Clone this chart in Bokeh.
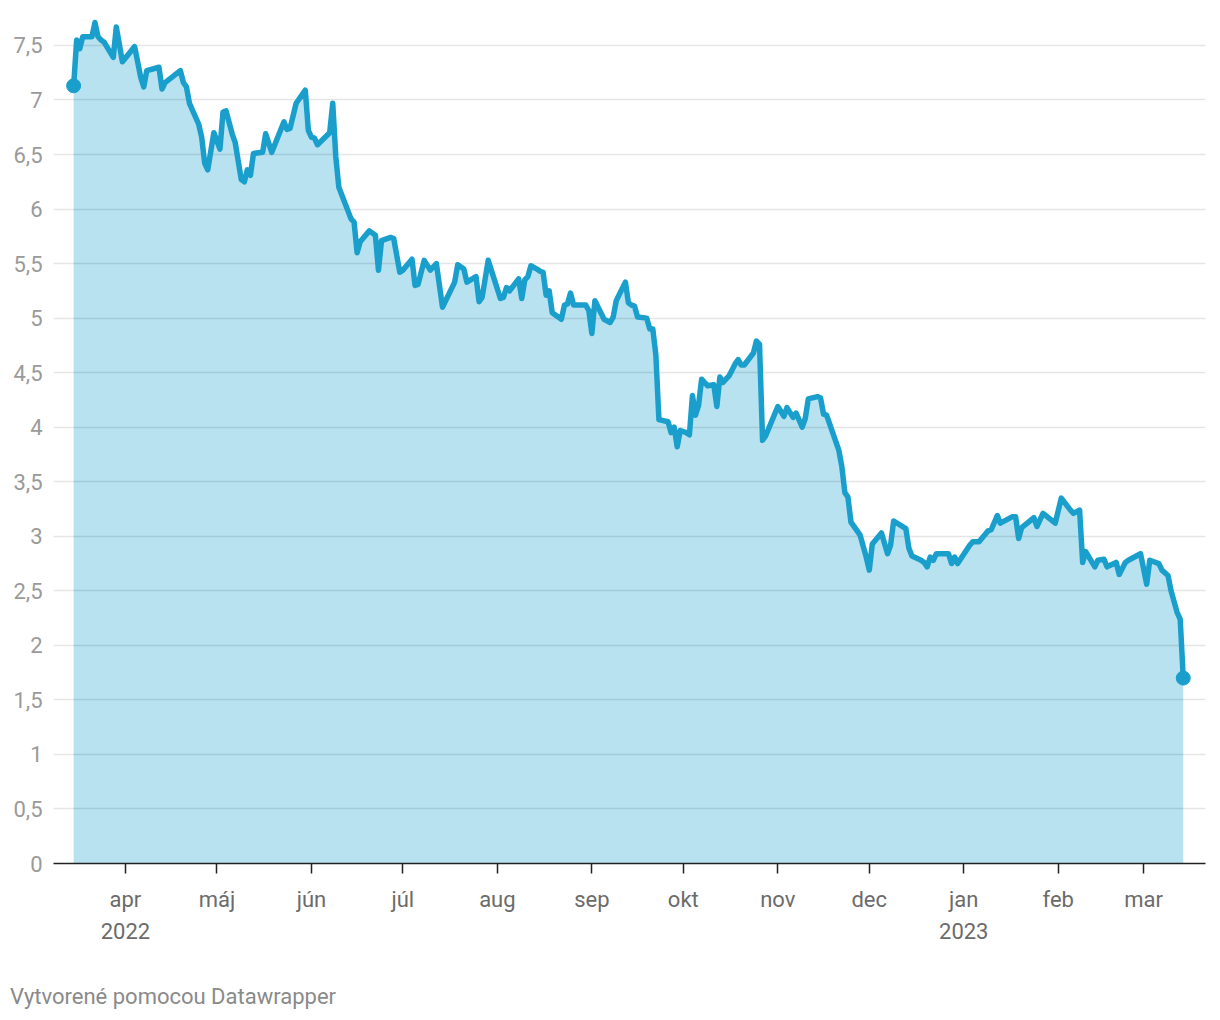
import pandas as pd
from bokeh.plotting import figure
from bokeh.layouts import column
from bokeh.models import (Range1d, FixedTicker, CustomJSTickFormatter, Div)
from bokeh.embed import file_html
from bokeh.resources import INLINE

# ---- data ----
start_date = "2022-03-15"
day_offsets = [
    0, 1, 2, 3, 6, 7, 8, 9, 10, 13, 14, 16, 18, 20, 22, 23, 24, 28, 29, 30,
    35, 36, 37, 38, 41, 42, 43, 44, 46, 48, 49, 50, 52, 53, 55, 56, 57, 58, 59, 62,
    63, 65, 69, 70, 71, 73, 76, 77, 78, 79, 80, 84, 85, 86, 87, 91, 92, 93, 94, 97,
    99, 100, 101, 104, 105, 107, 108, 111, 112, 113, 115, 117, 119, 121, 125, 126, 128, 129, 132, 133,
    134, 136, 140, 141, 142, 143, 146, 147, 148, 149, 150, 152, 153, 154, 155, 156, 157, 160, 161, 162,
    163, 164, 168, 169, 170, 171, 174, 176, 177, 178, 181, 182, 183, 184, 185, 188, 189, 190, 191, 192,
    195, 196, 197, 198, 199, 201, 202, 203, 204, 205, 206, 208, 210, 211, 212, 213, 215, 217, 218, 219,
    220, 223, 224, 225, 226, 227, 231, 233, 234, 236, 237, 239, 240, 241, 244, 245, 246, 247, 248, 251,
    252, 253, 254, 255, 258, 260, 261, 262, 265, 267, 268, 269, 273, 274, 275, 278, 279, 280, 281, 282,
    283, 287, 288, 289, 290, 294, 295, 297, 300, 301, 303, 304, 308, 309, 310, 311, 315, 316, 318, 322,
    324, 327, 328, 330, 331, 332, 335, 336, 338, 339, 342, 343, 345, 346, 350, 352, 353, 356, 357, 359,
    360, 362, 363, 364,
]
values = [
    7.13, 7.55, 7.47, 7.58, 7.58, 7.71, 7.58, 7.55, 7.53, 7.39, 7.67, 7.35, 7.42, 7.49, 7.21, 7.12, 7.27, 7.30, 7.10, 7.16,
    7.27, 7.16, 7.12, 6.97, 6.78, 6.66, 6.42, 6.36, 6.70, 6.55, 6.89, 6.90, 6.69, 6.61, 6.27, 6.25, 6.36, 6.31, 6.51, 6.52,
    6.69, 6.52, 6.80, 6.73, 6.74, 6.97, 7.09, 6.72, 6.66, 6.65, 6.59, 6.70, 6.97, 6.48, 6.20, 5.91, 5.88, 5.60, 5.70, 5.80,
    5.76, 5.44, 5.71, 5.74, 5.73, 5.42, 5.44, 5.54, 5.30, 5.31, 5.53, 5.44, 5.50, 5.10, 5.33, 5.49, 5.45, 5.33, 5.38, 5.15,
    5.19, 5.53, 5.18, 5.19, 5.28, 5.25, 5.36, 5.18, 5.35, 5.38, 5.48, 5.45, 5.43, 5.42, 5.21, 5.25, 5.05, 4.99, 5.12, 5.13,
    5.23, 5.12, 5.12, 5.07, 4.86, 5.16, 4.99, 4.96, 5.01, 5.16, 5.33, 5.14, 5.12, 5.11, 5.01, 5.00, 4.90, 4.90, 4.66, 4.07,
    4.05, 3.95, 4.00, 3.82, 3.97, 3.95, 3.93, 4.29, 4.11, 4.20, 4.44, 4.38, 4.39, 4.19, 4.46, 4.41, 4.47, 4.58, 4.62, 4.57,
    4.57, 4.68, 4.79, 4.76, 3.88, 3.92, 4.19, 4.10, 4.18, 4.09, 4.13, 4.00, 4.08, 4.26, 4.28, 4.27, 4.12, 4.11, 4.03, 3.79,
    3.64, 3.40, 3.36, 3.13, 3.01, 2.81, 2.69, 2.93, 3.03, 2.84, 2.92, 3.14, 3.07, 2.89, 2.82, 2.78, 2.76, 2.72, 2.81, 2.78,
    2.84, 2.84, 2.75, 2.81, 2.75, 2.92, 2.95, 2.95, 3.05, 3.06, 3.19, 3.12, 3.18, 3.18, 2.98, 3.08, 3.17, 3.09, 3.21, 3.12,
    3.35, 3.24, 3.21, 3.24, 2.76, 2.86, 2.72, 2.78, 2.79, 2.72, 2.76, 2.65, 2.76, 2.78, 2.84, 2.56, 2.78, 2.75, 2.69, 2.64,
    2.50, 2.30, 2.24, 1.70,
]
assert len(day_offsets) == len(values)

x_tick_dates = ["2022-04-01", "2022-05-01", "2022-06-01", "2022-07-01", "2022-08-01", "2022-09-01",
                "2022-10-01", "2022-11-01", "2022-12-01", "2023-01-01", "2023-02-01", "2023-03-01"]
x_tick_labels = ["apr\n2022", "máj", "jún", "júl", "aug", "sep", "okt", "nov", "dec", "jan\n2023", "feb", "mar"]
y_ticks = [0, 0.5, 1, 1.5, 2, 2.5, 3, 3.5, 4, 4.5, 5, 5.5, 6, 6.5, 7, 7.5]
y_tick_labels = ["0", "0,5", "1", "1,5", "2", "2,5", "3", "3,5", "4", "4,5", "5", "5,5", "6", "6,5", "7", "7,5"]
footer_text = "Vytvorené pomocou Datawrapper"

# ---- build ----
t0 = pd.Timestamp(start_date)
dates = t0 + pd.to_timedelta(day_offsets, unit="D")

LINE = "#1a9fcd"
FILL = "#b8e2f0"
FONT = "Roboto"

x_start = t0 - pd.Timedelta(days=6.6)
x_end = t0 + pd.Timedelta(days=371.3)

p = figure(width=1212, height=965, output_backend="svg", toolbar_location=None,
           x_axis_type="datetime",
           x_range=Range1d(x_start, x_end), y_range=Range1d(0, 7.793),
           min_border_left=53, min_border_right=7, min_border_top=13, min_border_bottom=102)
p.outline_line_color = None
p.background_fill_color = "white"
p.border_fill_color = "white"

area = p.varea(x=dates, y1=0, y2=values, fill_color=FILL, level="image")
p.line(x=dates, y=values, line_color=LINE, line_width=5.5, line_join="round", line_cap="round")
p.scatter(x=[dates[0], dates[-1]], y=[values[0], values[-1]], size=14, color=LINE)

tick_ms = [pd.Timestamp(d).value / 1e6 for d in x_tick_dates]
p.xaxis.ticker = FixedTicker(ticks=tick_ms)
p.xaxis.formatter = CustomJSTickFormatter(args=dict(tvals=tick_ms, tlabels=x_tick_labels), code="""
    for (let i = 0; i < tvals.length; i++) {
        if (Math.abs(tvals[i] - tick) < 1000) { return tlabels[i]; }
    }
    return "";
""")
p.xaxis.axis_line_color = "#222222"
p.xaxis.axis_line_width = 1.5
p.xaxis.major_tick_line_color = "#222222"
p.xaxis.major_tick_line_width = 1.5
p.xaxis.major_tick_out = 10
p.xaxis.major_tick_in = 0
p.xaxis.minor_tick_line_color = None
p.xaxis.major_label_standoff = 13
p.xaxis.major_label_text_font = FONT
p.xaxis.major_label_text_font_size = "22px"
p.xaxis.major_label_text_color = "#6b6b6b"
p.xaxis.major_label_text_line_height = 1.3

p.yaxis.ticker = FixedTicker(ticks=y_ticks)
p.yaxis.major_label_overrides = {t: l for t, l in zip(y_ticks, y_tick_labels)}
p.yaxis.axis_line_color = None
p.yaxis.major_tick_line_color = None
p.yaxis.minor_tick_line_color = None
p.yaxis.major_tick_out = 0
p.yaxis.major_tick_in = 0
p.yaxis.major_label_standoff = 11
p.yaxis.major_label_text_font = FONT
p.yaxis.major_label_text_font_size = "22px"
p.yaxis.major_label_text_color = "#9a9a9a"

p.xgrid.grid_line_color = None
p.ygrid.grid_line_color = "#000000"
p.ygrid.grid_line_alpha = 0.1
p.ygrid.grid_line_width = 1.5

footer = Div(text=footer_text, width=600, height=30, margin=(19, 0, 0, 10),
             styles={"font-family": FONT, "font-size": "22px", "line-height": "26px",
                     "color": "#8a8a8a", "white-space": "nowrap"})

layout = column(p, footer, spacing=0)
open("out.html", "w").write(file_html(layout, INLINE))
